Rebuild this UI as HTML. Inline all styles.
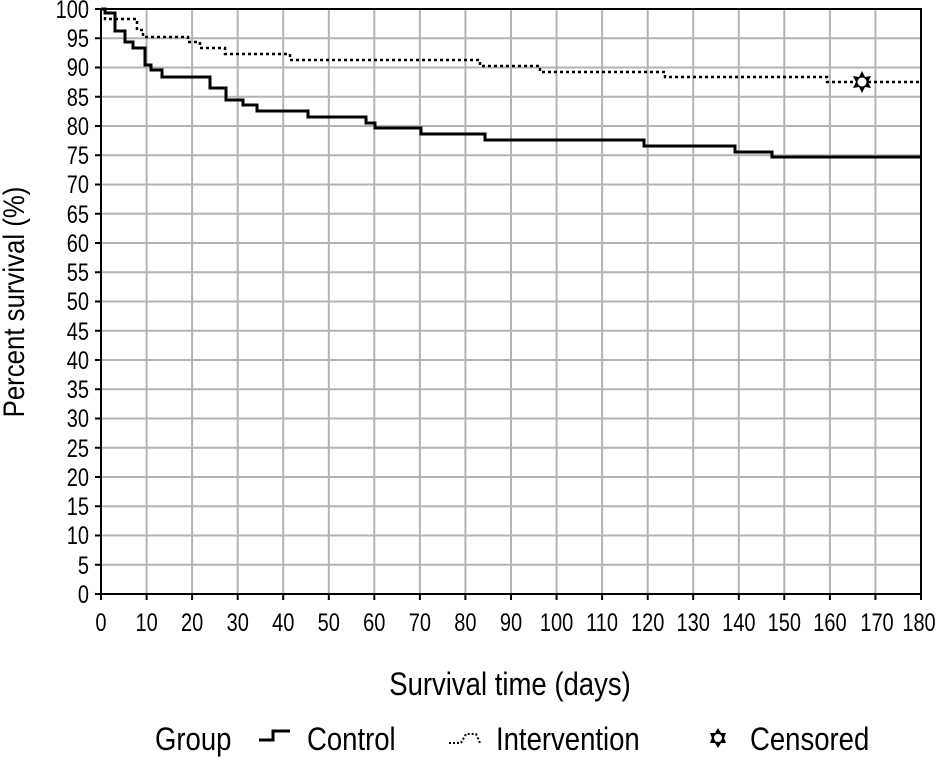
<!DOCTYPE html>
<html><head><meta charset="utf-8"><style>html,body{margin:0;padding:0;background:#fff}svg{display:block}
text{transform-box:fill-box;}
.yt text{transform-origin:right center;transform:scaleX(0.8)}
.xt text{transform-origin:center;transform:scaleX(0.8)}
.lg{transform-origin:left center;transform:scaleX(0.86)}
.ttl{transform-origin:center;transform:scaleX(0.86)}
</style></head>
<body>
<svg width="939" height="758" viewBox="0 0 939 758" xmlns="http://www.w3.org/2000/svg" font-family="Liberation Sans, sans-serif">
<g stroke="#b3b3b3" stroke-width="2">
<line x1="146.6" y1="9" x2="146.6" y2="594"/><line x1="192.1" y1="9" x2="192.1" y2="594"/><line x1="237.7" y1="9" x2="237.7" y2="594"/><line x1="283.2" y1="9" x2="283.2" y2="594"/><line x1="328.8" y1="9" x2="328.8" y2="594"/><line x1="374.3" y1="9" x2="374.3" y2="594"/><line x1="419.9" y1="9" x2="419.9" y2="594"/><line x1="465.4" y1="9" x2="465.4" y2="594"/><line x1="511" y1="9" x2="511" y2="594"/><line x1="556.6" y1="9" x2="556.6" y2="594"/><line x1="602.1" y1="9" x2="602.1" y2="594"/><line x1="647.7" y1="9" x2="647.7" y2="594"/><line x1="693.2" y1="9" x2="693.2" y2="594"/><line x1="738.8" y1="9" x2="738.8" y2="594"/><line x1="784.3" y1="9" x2="784.3" y2="594"/><line x1="829.9" y1="9" x2="829.9" y2="594"/><line x1="875.4" y1="9" x2="875.4" y2="594"/>
<line x1="101" x2="921" y1="564.75" y2="564.75"/><line x1="101" x2="921" y1="535.5" y2="535.5"/><line x1="101" x2="921" y1="506.25" y2="506.25"/><line x1="101" x2="921" y1="477" y2="477"/><line x1="101" x2="921" y1="447.75" y2="447.75"/><line x1="101" x2="921" y1="418.5" y2="418.5"/><line x1="101" x2="921" y1="389.25" y2="389.25"/><line x1="101" x2="921" y1="360" y2="360"/><line x1="101" x2="921" y1="330.75" y2="330.75"/><line x1="101" x2="921" y1="301.5" y2="301.5"/><line x1="101" x2="921" y1="272.25" y2="272.25"/><line x1="101" x2="921" y1="243" y2="243"/><line x1="101" x2="921" y1="213.75" y2="213.75"/><line x1="101" x2="921" y1="184.5" y2="184.5"/><line x1="101" x2="921" y1="155.25" y2="155.25"/><line x1="101" x2="921" y1="126" y2="126"/><line x1="101" x2="921" y1="96.75" y2="96.75"/><line x1="101" x2="921" y1="67.5" y2="67.5"/><line x1="101" x2="921" y1="38.25" y2="38.25"/>
</g>
<g stroke="#000" stroke-width="2">
<line x1="95" x2="101" y1="594" y2="594"/><line x1="95" x2="101" y1="564.75" y2="564.75"/><line x1="95" x2="101" y1="535.5" y2="535.5"/><line x1="95" x2="101" y1="506.25" y2="506.25"/><line x1="95" x2="101" y1="477" y2="477"/><line x1="95" x2="101" y1="447.75" y2="447.75"/><line x1="95" x2="101" y1="418.5" y2="418.5"/><line x1="95" x2="101" y1="389.25" y2="389.25"/><line x1="95" x2="101" y1="360" y2="360"/><line x1="95" x2="101" y1="330.75" y2="330.75"/><line x1="95" x2="101" y1="301.5" y2="301.5"/><line x1="95" x2="101" y1="272.25" y2="272.25"/><line x1="95" x2="101" y1="243" y2="243"/><line x1="95" x2="101" y1="213.75" y2="213.75"/><line x1="95" x2="101" y1="184.5" y2="184.5"/><line x1="95" x2="101" y1="155.25" y2="155.25"/><line x1="95" x2="101" y1="126" y2="126"/><line x1="95" x2="101" y1="96.75" y2="96.75"/><line x1="95" x2="101" y1="67.5" y2="67.5"/><line x1="95" x2="101" y1="38.25" y2="38.25"/><line x1="95" x2="101" y1="9" y2="9"/>
<line x1="101" x2="101" y1="594" y2="600"/><line x1="146.6" x2="146.6" y1="594" y2="600"/><line x1="192.1" x2="192.1" y1="594" y2="600"/><line x1="237.7" x2="237.7" y1="594" y2="600"/><line x1="283.2" x2="283.2" y1="594" y2="600"/><line x1="328.8" x2="328.8" y1="594" y2="600"/><line x1="374.3" x2="374.3" y1="594" y2="600"/><line x1="419.9" x2="419.9" y1="594" y2="600"/><line x1="465.4" x2="465.4" y1="594" y2="600"/><line x1="511" x2="511" y1="594" y2="600"/><line x1="556.6" x2="556.6" y1="594" y2="600"/><line x1="602.1" x2="602.1" y1="594" y2="600"/><line x1="647.7" x2="647.7" y1="594" y2="600"/><line x1="693.2" x2="693.2" y1="594" y2="600"/><line x1="738.8" x2="738.8" y1="594" y2="600"/><line x1="784.3" x2="784.3" y1="594" y2="600"/><line x1="829.9" x2="829.9" y1="594" y2="600"/><line x1="875.4" x2="875.4" y1="594" y2="600"/><line x1="921" x2="921" y1="594" y2="600"/>
</g>
<g class="yt" font-size="25" text-anchor="end">
<text x="89" y="603">0</text><text x="89" y="574">5</text><text x="89" y="544">10</text><text x="89" y="515">15</text><text x="89" y="486">20</text><text x="89" y="457">25</text><text x="89" y="427">30</text><text x="89" y="398">35</text><text x="89" y="369">40</text><text x="89" y="340">45</text><text x="89" y="310">50</text><text x="89" y="281">55</text><text x="89" y="252">60</text><text x="89" y="223">65</text><text x="89" y="193">70</text><text x="89" y="164">75</text><text x="89" y="135">80</text><text x="89" y="106">85</text><text x="89" y="76">90</text><text x="89" y="47">95</text><text x="89" y="18">100</text>
</g>
<g class="xt" font-size="25" text-anchor="middle">
<text x="101" y="631">0</text><text x="146.6" y="631">10</text><text x="192.1" y="631">20</text><text x="237.7" y="631">30</text><text x="283.2" y="631">40</text><text x="328.8" y="631">50</text><text x="374.3" y="631">60</text><text x="419.9" y="631">70</text><text x="465.4" y="631">80</text><text x="511" y="631">90</text><text x="556.6" y="631">100</text><text x="602.1" y="631">110</text><text x="647.7" y="631">120</text><text x="693.2" y="631">130</text><text x="738.8" y="631">140</text><text x="784.3" y="631">150</text><text x="829.9" y="631">160</text><text x="877" y="631">170</text><text x="919" y="631">180</text>
</g>
<rect x="101" y="9" width="820" height="585" fill="none" stroke="#000" stroke-width="2"/>
<path d="M101 9 H105 V13 H115 V31 H125 V42 H133 V48 H145 V65 H151 V70 H162 V77 H210 V88 H226 V100 H243 V105 H257 V111 H308 V117 H366 V123 H375 V128 H421 V134 H485 V140 H644 V146 H735 V152 H772 V157 H921" fill="none" stroke="#000" stroke-width="3"/>
<path d="M101 9 H105 V19 H137 V30 H143 V37 H188 V42 H200 V48 H225 V54 H290 V60 H480 V66 H540 V72 H665 V77 H827 V82 H921" fill="none" stroke="#000" stroke-width="2.5" stroke-dasharray="3,3"/>
<g transform="translate(862,82)"><polygon points="0,-11 3,-5 9,-6 6,0 9,6 3,5 0,11 -3,5 -9,6 -6,0 -9,-6 -3,-5" fill="#000"/><circle r="4.5" fill="#fff"/></g>
<g transform="translate(24,302) rotate(-90)"><text class="ttl" x="0" y="0" text-anchor="middle" font-size="30">Percent survival (%)</text></g>
<text class="ttl" x="510" y="695" text-anchor="middle" font-size="32">Survival time (days)</text>
<text class="lg" x="155" y="750" font-size="32">Group</text>
<path d="M259 740 H273 V731 H290" fill="none" stroke="#000" stroke-width="3"/>
<text class="lg" x="307" y="750" font-size="32">Control</text>
<path d="M449 743 H461 L466 734 H476 L480 743" fill="none" stroke="#000" stroke-width="2" stroke-dasharray="2,2"/>
<text class="lg" x="496" y="750" font-size="32">Intervention</text>
<g transform="translate(718,738)"><polygon points="0,-10 3,-5 8,-5 6,0 8,5 3,5 0,10 -3,5 -8,5 -6,0 -8,-5 -3,-5" fill="#000"/><circle r="4" fill="#fff"/></g>
<text class="lg" x="750" y="750" font-size="32">Censored</text>
</svg>
</body></html>
